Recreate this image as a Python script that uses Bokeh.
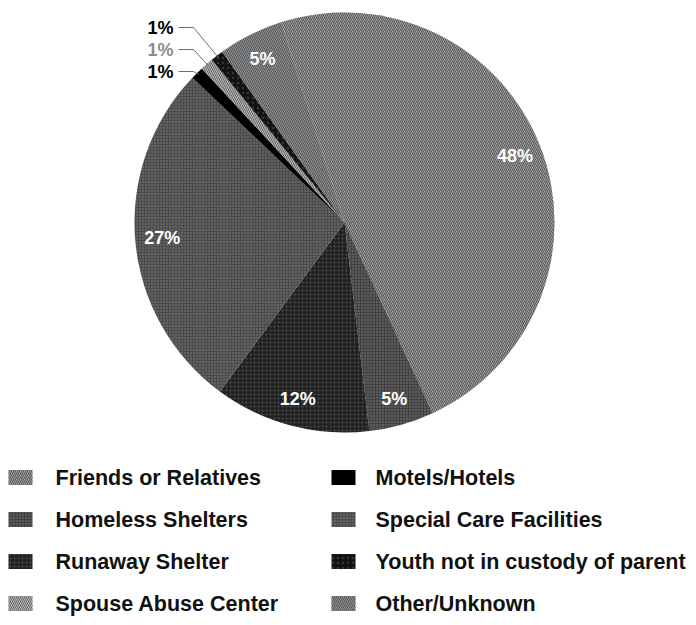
import math
from bokeh.plotting import figure
from bokeh.models import Range1d, ColumnDataSource
from bokeh.core.properties import value
from bokeh.embed import file_html
from bokeh.resources import INLINE

# ---------------- data ----------------
categories = ["Friends or Relatives", "Homeless Shelters", "Runaway Shelter",
              "Special Care Facilities", "Motels/Hotels", "Spouse Abuse Center",
              "Youth not in custody of parent", "Other/Unknown"]
percents = [48, 5, 12, 27, 1, 1, 1, 5]
pct_labels = ["48%", "5%", "12%", "27%", "1%", "1%", "1%", "5%"]
legend_order = ["Friends or Relatives", "Homeless Shelters", "Runaway Shelter",
                "Spouse Abuse Center", "Motels/Hotels", "Special Care Facilities",
                "Youth not in custody of parent", "Other/Unknown"]

# ---------------- styles ----------------
fill = {
    "Friends or Relatives": "#bcbcbc",
    "Homeless Shelters": "#444444",
    "Runaway Shelter": "#222222",
    "Special Care Facilities": "#4c4c4c",
    "Motels/Hotels": "#000000",
    "Spouse Abuse Center": "#b8b8b8",
    "Youth not in custody of parent": "#121212",
    "Other/Unknown": "#aaaaaa",
}
hatch = {
    "Friends or Relatives": ("left_diagonal_line", "#555555", 4, 1.2, 1.0),
    "Homeless Shelters": ("dot", "#ffffff", 3, 1.0, 0.3),
    "Runaway Shelter": ("dot", "#ffffff", 4, 1.0, 0.2),
    "Special Care Facilities": ("dot", "#ffffff", 3, 1.0, 0.3),
    "Spouse Abuse Center": ("left_diagonal_line", "#666666", 4, 1.0, 1.0),
    "Youth not in custody of parent": ("dot", "#ffffff", 5, 1.0, 0.15),
    "Other/Unknown": ("left_diagonal_line", "#555555", 4, 1.2, 1.0),
}
NO_HATCH = (" ", "#000000", 4, 1.0, 0.0)
outer_label_color = ["#000000", "#8c8c8c", "#000000"]  # top to bottom
FONT = value("Liberation Sans")

W, H = 696, 625
CX, CY, R = 344, 222, 210          # pixel coords (top-down)
START = -17.6                       # degrees clockwise from 12 o'clock
LABEL_R = 183
OUT_LABEL_Y = [27, 49, 71]
OUT_LABEL_RIGHT = 173
ELBOW_X = 193
LEADER_R = 208

def to_xy(theta_deg, r):
    t = math.radians(theta_deg)
    return CX + r * math.sin(t), H - (CY - r * math.cos(t))

p = figure(width=W, height=H, output_backend="svg", toolbar_location=None,
           x_range=Range1d(0, W), y_range=Range1d(0, H),
           x_axis_type=None, y_axis_type=None, min_border=0)
p.grid.visible = False
p.outline_line_color = None
p.background_fill_color = "white"

total = sum(percents)
cum = 0.0
starts, ends, mids = [], [], []
for v in percents:
    a0 = START + cum / total * 360.0
    a1 = a0 + v / total * 360.0
    starts.append(math.radians(90 - a0))
    ends.append(math.radians(90 - a1))
    mids.append((a0 + a1) / 2)
    cum += v

def hatch_cols(names):
    hs = [hatch.get(c, NO_HATCH) for c in names]
    return dict(hp=[h[0] for h in hs], hc=[h[1] for h in hs],
                hs=[h[2] for h in hs], hw=[h[3] for h in hs], ha=[h[4] for h in hs])

src = ColumnDataSource(dict(
    x=[CX] * len(percents), y=[H - CY] * len(percents),
    start=starts, end=ends,
    color=[fill[c] for c in categories],
    **hatch_cols(categories),
))
p.wedge(x="x", y="y", radius=R, start_angle="start", end_angle="end",
        direction="clock", fill_color="color", line_color=None,
        hatch_pattern="hp", hatch_color="hc", hatch_scale="hs", hatch_weight="hw",
        hatch_alpha="ha", source=src)

# inner labels
lx, ly, lt = [], [], []
for v, m, t in zip(percents, mids, pct_labels):
    if v >= 5:
        x, y = to_xy(m, LABEL_R)
        lx.append(x); ly.append(y); lt.append(t)
p.text(x=lx, y=ly, text=lt, text_color="white", text_font=FONT,
       text_font_style="bold", text_font_size="18px",
       text_align="center", text_baseline="middle")

# outer labels with leaders
small = [(m, t) for v, m, t in zip(percents, mids, pct_labels) if v < 5]
small.sort(key=lambda s: -s[0])
for (m, t), py, col in zip(small, OUT_LABEL_Y, outer_label_color):
    ex, ey = to_xy(m, LEADER_R)
    yy = H - py
    p.line([OUT_LABEL_RIGHT + 5, ELBOW_X, ex], [yy, yy, ey],
           line_color="#6e6e6e", line_width=1)
    p.text(x=[OUT_LABEL_RIGHT], y=[yy], text=[t], text_color=col, text_font=FONT,
           text_font_style="bold", text_font_size="18px",
           text_align="right", text_baseline="middle")

# legend
SW_X = [20, 343]
TX_X = [55, 375]
ROW_Y = [477, 519, 561, 603]
sx, sy, scol, tx, ty, tt = [], [], [], [], [], []
for i, c in enumerate(legend_order):
    col, row = divmod(i, 4)
    sx.append(SW_X[col]); sy.append(H - ROW_Y[row])
    scol.append(fill[c])
    tx.append(TX_X[col]); ty.append(H - ROW_Y[row]); tt.append(c)
lsrc = ColumnDataSource(dict(x=sx, y=sy, color=scol, **hatch_cols(legend_order)))
p.rect(x="x", y="y", width=24, height=15, fill_color="color", line_color=None,
       hatch_pattern="hp", hatch_color="hc", hatch_scale="hs", hatch_weight="hw",
       hatch_alpha="ha", source=lsrc)
p.text(x=tx, y=ty, text=tt, text_color="#111111", text_font=FONT,
       text_font_style="bold", text_font_size="21.5px",
       text_align="left", text_baseline="middle")

open("out.html", "w").write(file_html(p, INLINE))
